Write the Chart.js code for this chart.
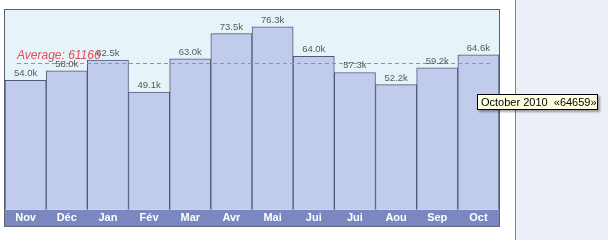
<!DOCTYPE html>
<html><head><meta charset="utf-8">
<script src="https://cdn.jsdelivr.net/npm/chart.js@4/dist/chart.umd.min.js"></script>
<style>
html,body{margin:0;padding:0;background:#fff;width:608px;height:240px;overflow:hidden;}
#wrap{position:absolute;left:0;top:0;width:515px;height:240px;}
#side{position:absolute;left:515px;top:0;width:93px;height:240px;background:#eceff8;border-left:1px solid #7d818e;box-sizing:border-box;}
#tip{position:absolute;left:477px;top:94px;width:121px;height:16px;box-sizing:border-box;background:#ffffe1;border:1px solid #000;font:11px "Liberation Sans",Arial,sans-serif;color:#000;line-height:14px;padding-left:3px;white-space:nowrap;box-shadow:2px 2px 2px rgba(0,0,0,0.35);}
</style></head>
<body>
<div id="wrap"><canvas id="c" width="515" height="240"></canvas></div>
<div id="side"></div>
<div id="tip">October 2010 &nbsp;«64659»</div>
<script>
const categories = ['Nov','Déc','Jan','Fév','Mar','Avr','Mai','Jui','Jui','Aou','Sep','Oct'];
const visits = [54040,58030,62540,49120,63030,73520,76340,64020,57330,52230,59220,64659];
const averageValue = 61166;
const averageLabel = 'Average: 61166';
const yMax = 83400;

const fmtK = v => (Math.floor(v/100)/10).toFixed(1) + 'k';

const deco = {
  id:'deco',
  beforeDraw(chart){
    const {ctx, chartArea:a} = chart;
    ctx.save();
    ctx.fillStyle = '#e6f3f9';
    ctx.fillRect(a.left, a.top, a.right-a.left, a.bottom-a.top);
    ctx.fillStyle = '#7b87bf';
    ctx.fillRect(a.left, a.bottom, a.right-a.left, 17);
    ctx.restore();
  },
  afterDatasetsDraw(chart){
    const {ctx, chartArea:a, scales} = chart;
    const meta = chart.getDatasetMeta(0);
    ctx.save();
    // average line (dashes)
    const ya = Math.round(scales.y.getPixelForValue(averageValue));
    ctx.fillStyle = '#ee6a82';
    for (let x = a.left + 12; x < a.right - 9; x += 7) {
      ctx.fillRect(x, ya, Math.min(4, a.right - 9 - x), 1);
    }
    // value labels
    ctx.font = '9.5px "Liberation Sans", Arial, sans-serif';
    ctx.fillStyle = '#5a5a5a';
    ctx.textAlign = 'center';
    ctx.textBaseline = 'bottom';
    meta.data.forEach((bar,i)=>{
      ctx.fillText(fmtK(visits[i]), bar.x, bar.y - 2);
    });
    // average text
    ctx.font = 'italic 12px "Liberation Sans", Arial, sans-serif';
    ctx.fillStyle = '#e0505a';
    ctx.textAlign = 'left';
    ctx.textBaseline = 'alphabetic';
    ctx.fillText(averageLabel, a.left+12, ya - 4);
    // border
    ctx.strokeStyle = '#5b6170';
    ctx.lineWidth = 1;
    ctx.strokeRect(a.left-0.5, a.top-0.5, a.right-a.left+1, a.bottom-a.top+17);
    ctx.restore();
  }
};

new Chart(document.getElementById('c'), {
  type:'bar',
  data:{ labels:categories, datasets:[{ data:visits, backgroundColor:'#c1cbeb', borderColor:'#4f5a7a', borderWidth:1, borderSkipped:'bottom', barPercentage:1, categoryPercentage:1 }]},
  options:{
    responsive:false, animation:false, events:[],
    layout:{ padding:{ left:5, right:16, top:10, bottom:13 } },
    plugins:{ legend:{display:false}, tooltip:{enabled:false} },
    scales:{
      x:{ grid:{display:false, drawTicks:false}, border:{display:false},
          ticks:{ color:'#ffffff', font:{family:'"Liberation Sans", Arial, sans-serif', size:11, weight:'bold'}, padding:2, maxRotation:0, autoSkip:false } },
      y:{ display:false, min:0, max:yMax }
    }
  },
  plugins:[deco]
});
</script>
</body></html>
